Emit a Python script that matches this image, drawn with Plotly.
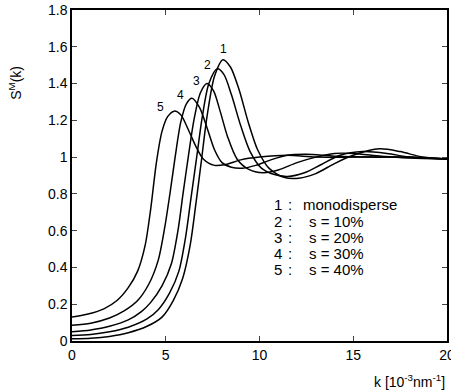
import plotly.graph_objects as go

# ---- data ----
k1 = [0, 1, 2, 3, 4, 4.8, 5.4, 5.9, 6.3, 6.6, 6.9, 7.2, 7.6, 8.05, 8.45, 8.9, 9.4, 9.9, 10.5, 11.3, 12.1, 13, 14, 15, 16.4, 17.5, 18.7, 20]
s1 = [0.012, 0.015, 0.025, 0.045, 0.08, 0.13, 0.22, 0.34, 0.52, 0.74, 0.98, 1.22, 1.44, 1.53, 1.49, 1.37, 1.19, 1.04, 0.94, 0.89, 0.885, 0.91, 0.965, 1.01, 1.045, 1.03, 1.0, 0.99]

k2 = [0, 1, 2, 3, 4, 4.6, 5.2, 5.7, 6.05, 6.35, 6.65, 6.95, 7.3, 7.75, 8.1, 8.5, 9.0, 9.5, 10.1, 10.8, 11.5, 12.4, 13.3, 14.3, 15.5, 16.8, 18, 20]
s2 = [0.03, 0.035, 0.05, 0.075, 0.12, 0.17, 0.26, 0.38, 0.56, 0.78, 1.0, 1.22, 1.40, 1.48, 1.45, 1.34, 1.17, 1.03, 0.94, 0.905, 0.895, 0.915, 0.96, 1.01, 1.03, 1.02, 1.0, 0.99]

k3 = [0, 1, 2, 3, 3.7, 4.2, 4.8, 5.3, 5.65, 5.92, 6.2, 6.5, 6.85, 7.2, 7.55, 7.9, 8.3, 8.8, 9.4, 10.2, 11, 12, 13, 14, 15, 16.5, 18, 20]
s3 = [0.05, 0.06, 0.08, 0.115, 0.16, 0.21, 0.30, 0.42, 0.60, 0.80, 1.0, 1.2, 1.35, 1.40, 1.36, 1.25, 1.11, 0.99, 0.935, 0.915, 0.93, 0.97, 1.0, 1.02, 1.02, 1.005, 0.995, 0.99]

k4 = [0, 1, 2, 2.8, 3.5, 4.1, 4.6, 4.95, 5.25, 5.5, 5.8, 6.1, 6.4, 6.8, 7.2, 7.6, 8.0, 8.5, 9.1, 9.8, 10.6, 11.5, 12.5, 14, 16, 18, 20]
s4 = [0.085, 0.097, 0.125, 0.165, 0.22, 0.31, 0.44, 0.62, 0.82, 1.0, 1.19, 1.29, 1.32, 1.27, 1.16, 1.04, 0.97, 0.945, 0.94, 0.955, 0.985, 1.01, 1.015, 1.005, 1.0, 1.0, 0.99]

k5 = [0, 0.8, 1.7, 2.4, 3.0, 3.5, 3.9, 4.2, 4.5, 4.8, 5.1, 5.45, 5.8, 6.2, 6.6, 7.0, 7.6, 8.2, 9.0, 10, 11.5, 13, 15, 17, 20]
s5 = [0.13, 0.145, 0.175, 0.22, 0.29, 0.38, 0.52, 0.72, 0.97, 1.14, 1.22, 1.25, 1.23, 1.15, 1.06, 0.99, 0.955, 0.96, 0.985, 1.0, 1.01, 1.0, 1.0, 1.0, 0.99]

curve_labels = ["1", "2", "3", "4", "5"]
label_k = [8.1, 7.2, 6.65, 5.8, 4.7]
label_s = [1.59, 1.50, 1.415, 1.34, 1.27]

legend_nums = ["1", "2", "3", "4", "5"]
legend_texts = ["monodisperse", "s = 10%", "s = 20%", "s = 30%", "s = 40%"]
legend_s = [0.74, 0.652, 0.565, 0.478, 0.391]

x_ticks = [0, 5, 10, 15, 20]
y_ticks = [0, 0.2, 0.4, 0.6, 0.8, 1, 1.2, 1.4, 1.6, 1.8]
y_ticktext = ["0", "0.2", "0.4", "0.6", "0.8", "1", "1.2", "1.4", "1.6", "1.8"]

FONT = "Liberation Sans"

fig = go.Figure()
for kk, ss in [(k1, s1), (k2, s2), (k3, s3), (k4, s4), (k5, s5)]:
    fig.add_trace(go.Scatter(x=kk, y=ss, mode="lines",
                             line=dict(color="black", width=1.5, shape="spline", smoothing=0.8),
                             showlegend=False, hoverinfo="skip"))

annotations = []
for t, kx, sy in zip(curve_labels, label_k, label_s):
    annotations.append(dict(x=kx, y=sy, xref="x", yref="y", text=t, showarrow=False,
                            font=dict(family=FONT, size=12, color="black")))
for n, t, sy in zip(legend_nums, legend_texts, legend_s):
    annotations.append(dict(x=11.0, y=sy, xref="x", yref="y", text=n, showarrow=False,
                            font=dict(family=FONT, size=15, color="black")))
    annotations.append(dict(x=11.65, y=sy, xref="x", yref="y", text=":", showarrow=False,
                            font=dict(family=FONT, size=15, color="black")))
    x0 = 12.2 if t == "monodisperse" else 12.55
    annotations.append(dict(x=x0, y=sy, xref="x", yref="y", text=t, showarrow=False,
                            xanchor="left", font=dict(family=FONT, size=15, color="black")))

annotations.append(dict(x=1.0, y=-0.12, xref="paper", yref="paper", xanchor="right", yanchor="middle",
                        text="k [10<sup>-3</sup>nm<sup>-1</sup>]", showarrow=False,
                        font=dict(family=FONT, size=14, color="black")))
annotations.append(dict(x=-0.152, y=0.78, xref="paper", yref="paper", xanchor="center", yanchor="middle",
                        text="S<sup>M</sup>(k)", textangle=-90, showarrow=False,
                        font=dict(family=FONT, size=14, color="black")))

fig.update_layout(
    width=451, height=390,
    margin=dict(l=72, r=4, t=10, b=49, autoexpand=False),
    paper_bgcolor="white", plot_bgcolor="white",
    annotations=annotations,
    xaxis=dict(range=[0, 20], tickvals=x_ticks, ticks="inside", ticklen=5, tickwidth=1.2,
               showline=True, linecolor="black", linewidth=1.5, mirror="ticks",
               showgrid=False, zeroline=False, ticklabeloverflow="allow",
               tickfont=dict(family=FONT, size=14, color="black")),
    yaxis=dict(range=[0, 1.8], tickvals=y_ticks, ticktext=y_ticktext, ticks="inside", ticklen=5, tickwidth=1.2,
               showline=True, linecolor="black", linewidth=1.5, mirror="ticks",
               showgrid=False, zeroline=False, ticklabeloverflow="allow",
               tickfont=dict(family=FONT, size=14, color="black")),
)

# remove the default 8px page margin so the figure sits at the window's top-left corner
fig.write_html("out.html", config={"displayModeBar": False},
               post_script="document.body.style.margin='0px';document.body.style.overflow='hidden';")
